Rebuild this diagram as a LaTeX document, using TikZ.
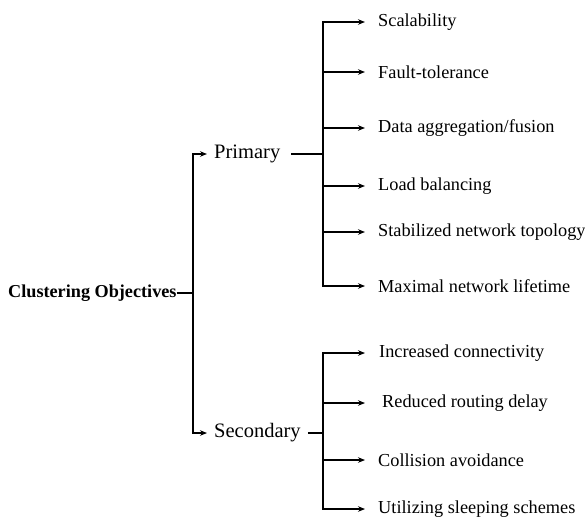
\documentclass[tikz,border=0pt]{standalone}
\usepackage{fontspec}
\setmainfont{Liberation Serif}
\usetikzlibrary{arrows.meta}
\begin{document}
\begin{tikzpicture}[x=1pt,y=-1pt,
  line/.style={line width=1.3pt, black},
  arr/.style={line, -{Stealth[length=7pt,width=5.5pt]}},
  leaf/.style={anchor=west, inner sep=0pt, font=\fontsize{18.3}{20}\selectfont},
  mid/.style={anchor=west, inner sep=0pt, font=\fontsize{20.5}{22}\selectfont},
  rootbox/.style={anchor=west, inner sep=0pt, font=\fontsize{18.2}{20}\selectfont\bfseries}]
\useasboundingbox (0,0) rectangle (585,517);
% root
\node[rootbox] (root) at (8,293) {Clustering Objectives};
\coordinate (m) at (193,293);
\draw[line] (root.east) -- (m);
% mid level
\node[mid] (prim) at (214,154) {Primary};
\node[mid] (sec) at (214,433) {Secondary};
\draw[arr, shorten >=7pt] (m) |- (prim.west);
\draw[arr, shorten >=7pt] (m) |- (sec.west);
% primary bus
\coordinate (pb) at (323,154);
\draw[line, shorten <=11pt] (prim.east) -- (pb);
\node[leaf] (p1) at (378,22) {Scalability};
\node[leaf] (p2) at (378,72) {Fault-tolerance};
\node[leaf] (p3) at (378,128) {Data aggregation/fusion};
\node[leaf] (p4) at (378,186) {Load balancing};
\node[leaf] (p5) at (378,232) {Stabilized network topology};
\node[leaf] (p6) at (378,286) {Maximal network lifetime};
\foreach \n in {p1,p2,p3,p4,p5,p6}
  \draw[arr, shorten >=13pt] (pb) |- (\n.west);
% secondary bus
\coordinate (sb) at (323,433);
\draw[line, shorten <=7pt] (sec.east) -- (sb);
\node[leaf] (s1) at (379,353) {Increased connectivity};
\node[leaf] (s2) at (382,403) {Reduced routing delay};
\node[leaf] (s3) at (378,460) {Collision avoidance};
\node[leaf] (s4) at (378,509) {Utilizing sleeping schemes};
\draw[arr, shorten >=14pt] (sb) |- (s1.west);
\draw[arr, shorten >=17pt] (sb) |- (s2.west);
\draw[arr, shorten >=13pt] (sb) |- (s3.west);
\draw[arr, shorten >=13pt] (sb) |- (s4.west);
\end{tikzpicture}
\end{document}
